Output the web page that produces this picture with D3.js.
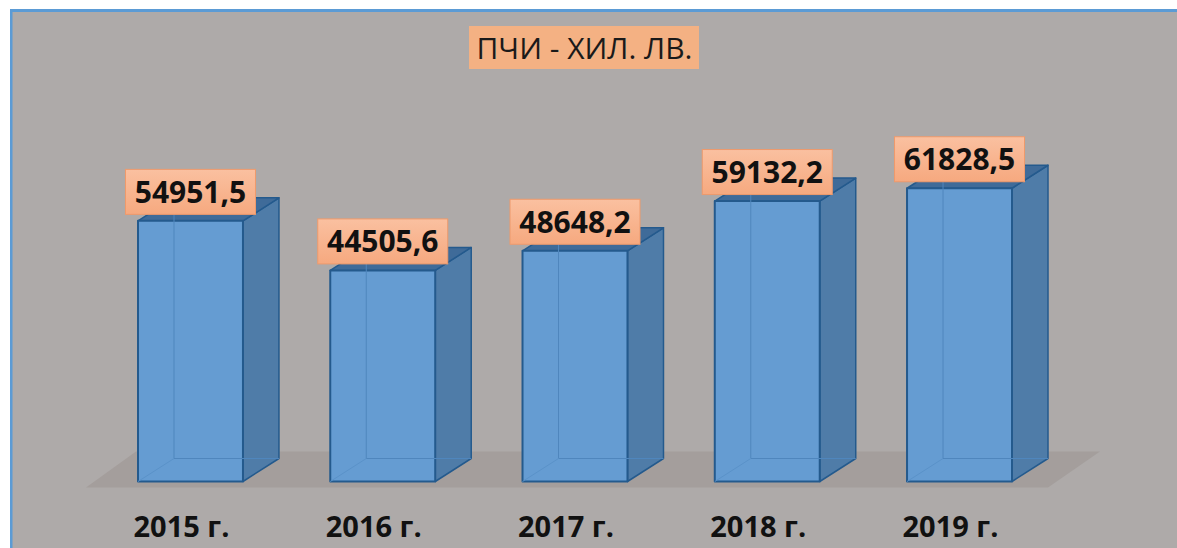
<!DOCTYPE html>
<meta http-equiv="Content-type" content="text/html; charset=UTF-8"/>
<style>
html, body { margin: 0; background: #fff; overflow: hidden; }
* { font-family: 'Open Sans' }
</style>
<svg width="1177" height="548"></svg>
<script src="https://d3js.org/d3.v7.min.js"></script>
<script>
var years = ["2015 г.", "2016 г.", "2017 г.", "2018 г.", "2019 г."];
var values = [54951.5, 44505.6, 48648.2, 59132.2, 61828.5];
var valueLabels = ["54951,5", "44505,6", "48648,2", "59132,2", "61828,5"];
var title = "ПЧИ - ХИЛ. ЛВ.";

var svg = d3.select("svg"),
    depthX = 36,
    depthY = -23,
    labelW = 130,
    labelH = 45;

var x = d3.scaleBand()
    .domain(years)
    .range([138, 1012])
    .paddingInner(0.454)
    .paddingOuter(0);

var y = d3.scaleLinear()
    .domain([0, 70000])
    .range([481.5, 149.5]);

var defs = svg.append("defs");
var grad = defs.append("linearGradient")
    .attr("id", "labelFill")
    .attr("x1", 0).attr("x2", 0).attr("y1", 0).attr("y2", 1);
grad.append("stop").attr("offset", "0%").attr("stop-color", "#fac0a0");
grad.append("stop").attr("offset", "100%").attr("stop-color", "#f6a97f");

// backdrop with the blue frame on top and left
svg.append("rect")
    .attr("x", 10).attr("y", 9)
    .attr("width", 1167).attr("height", 539)
    .attr("fill", "#5b9bd5");
svg.append("rect")
    .attr("x", 12.5).attr("y", 12)
    .attr("width", 1165).attr("height", 537)
    .attr("fill", "#aeaaa9");

// floor
var pathLine = d3.line();
svg.append("path")
    .attr("fill", "#a49e9c")
    .attr("d", pathLine([
      [x(years[0]) - 52, y(0) + 6],
      [x(years[4]) + x.bandwidth() + 36, y(0) + 6],
      [x(years[4]) + x.bandwidth() + 88, y(0) - 30],
      [x(years[0]) - 2, y(0) - 30]
    ]) + "Z");

var bars = svg.selectAll(".bar")
    .data(values)
    .enter().append("g")
    .attr("class", "bar");

function face(pts, fill, stroke, sw, open) {
  return function(d, i) {
    var x0 = x(years[i]),
        x1 = x0 + x.bandwidth(),
        y0 = y(0),
        y1 = y(d);
    d3.select(this).append("path")
      .attr("d", pathLine(pts(x0, x1, y0, y1)) + (open ? "" : "Z"))
      .attr("fill", fill)
      .attr("stroke", stroke)
      .attr("stroke-width", sw)
      .attr("stroke-linejoin", "round");
  };
}

// side, top, then the see-through front with the hidden edges showing
bars.each(face(function(x0, x1, y0, y1) {
  return [[x1, y0], [x1 + depthX, y0 + depthY], [x1 + depthX, y1 + depthY], [x1, y1]];
}, "#4f7ca8", "#245a8d", 1.5));
bars.each(face(function(x0, x1, y0, y1) {
  return [[x0, y1], [x1, y1], [x1 + depthX, y1 + depthY], [x0 + depthX, y1 + depthY]];
}, "#3f6b99", "#245a8d", 1.5));
bars.each(face(function(x0, x1, y0, y1) {
  return [[x0, y0], [x1, y0], [x1, y1], [x0, y1]];
}, "#659cd2", "#245a8d", 2));
bars.each(face(function(x0, x1, y0, y1) {
  return [[x0 + depthX, y1 + depthY], [x0 + depthX, y0 + depthY], [x1 + depthX, y0 + depthY]];
}, "none", "#4f86bd", 1, true));
bars.each(face(function(x0, x1, y0, y1) {
  return [[x0, y0], [x0 + depthX, y0 + depthY]];
}, "none", "#5a92c9", 1, true));

// value labels
var labels = svg.selectAll(".label")
    .data(values)
    .enter().append("g")
    .attr("class", "label")
    .attr("transform", function(d, i) {
      return "translate(" + (x(years[i]) + x.bandwidth() / 2) + "," + (y(d) - 29) + ")";
    });

labels.append("rect")
    .attr("x", -labelW / 2)
    .attr("y", -labelH / 2)
    .attr("width", labelW)
    .attr("height", labelH)
    .attr("fill", "url(#labelFill)")
    .attr("stroke", "#ee9a6c")
    .attr("stroke-width", 1);

labels.append("text")
    .attr("text-anchor", "middle")
    .attr("dy", "0.36em")
    .style("font-size", "30px")
    .style("font-weight", "700")
    .attr("fill", "#111")
    .text(function(d, i) { return valueLabels[i]; });

// category labels
svg.selectAll(".year")
    .data(years)
    .enter().append("text")
    .attr("class", "year")
    .attr("x", function(d) { return x(d) + x.bandwidth() / 2 - 9; })
    .attr("y", 537)
    .attr("text-anchor", "middle")
    .style("font-size", "29px")
    .style("font-weight", "700")
    .attr("fill", "#111")
    .text(function(d) { return d; });

// title
svg.append("rect")
    .attr("x", 469).attr("y", 26)
    .attr("width", 230).attr("height", 43)
    .attr("fill", "#f4b183");
svg.append("text")
    .attr("x", 584.5)
    .attr("y", 59)
    .attr("text-anchor", "middle")
    .style("font-size", "30px")
    .attr("fill", "#1a1a1a")
    .text(title);
</script>
